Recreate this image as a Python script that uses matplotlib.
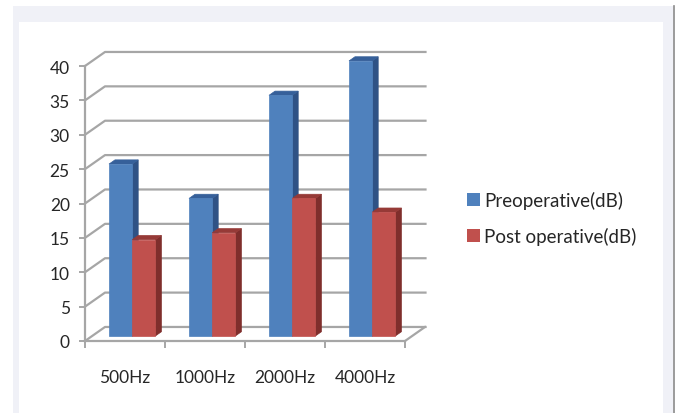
import matplotlib
matplotlib.use("Agg")
import matplotlib.pyplot as plt
from matplotlib.patches import Polygon, Rectangle, Patch
from matplotlib.lines import Line2D

categories = ["500Hz", "1000Hz", "2000Hz", "4000Hz"]
preoperative = [25, 20, 35, 40]
post_operative = [14, 15, 20, 18]
series_names = ["Preoperative(dB)", "Post operative(dB)"]
y_ticks = [0, 5, 10, 15, 20, 25, 30, 35, 40]

plt.rcParams['font.family'] = ['Lato', 'DejaVu Sans']

W, H = 677, 414
DEPTH_X, DEPTH_Y = 0.25, 2.04  # oblique shift for one full unit of depth
GRID = "#a6a6a6"
TEXT = "#262626"

# face colours: front, side, top
BLUE = ("#4f81bd", "#2f5285", "#36609a")
RED = ("#c0504d", "#7f2e2c", "#963a37")


def proj(x, y, z):
    return x + DEPTH_X * z, y + DEPTH_Y * z


def draw_box(ax, x0, x1, top, z0, z1, colors, zorder):
    front, side, lid = colors
    pts = lambda corners: [proj(*c) for c in corners]
    ax.add_patch(Polygon(pts([(x1, 0, z0), (x1, 0, z1), (x1, top, z1), (x1, top, z0)]),
                         closed=True, facecolor=side, edgecolor=side, lw=0.5,
                         zorder=zorder, clip_on=False))
    ax.add_patch(Polygon(pts([(x0, top, z0), (x1, top, z0), (x1, top, z1), (x0, top, z1)]),
                         closed=True, facecolor=lid, edgecolor=lid, lw=0.5,
                         zorder=zorder, clip_on=False))
    ax.add_patch(Polygon(pts([(x0, 0, z0), (x1, 0, z0), (x1, top, z0), (x0, top, z0)]),
                         closed=True, facecolor=front, edgecolor=front, lw=0.5,
                         zorder=zorder, clip_on=False))


fig = plt.figure(figsize=(W / 100, H / 100), dpi=100)

# page frame around the chart
fig.patches.append(Rectangle((13 / W, 0), 660 / W, 1 - 7 / H, transform=fig.transFigure,
                             facecolor="#f0f1f7", edgecolor="none", zorder=-3))
fig.patches.append(Rectangle((19 / W, 0), 644 / W, 1 - 23 / H, transform=fig.transFigure,
                             facecolor="white", edgecolor="none", zorder=-2))
fig.lines.append(Line2D([673.5 / W, 673.5 / W], [0, 1 - 7 / H], transform=fig.transFigure,
                        color="#8a8a8a", lw=1.2, zorder=-2))

x_max, y_max = 4.35, 43
ax = fig.add_axes([85 / W, (H - 342) / H, x_max * 80 / W, y_max * 6.875 / H])
ax.set_zorder(1)
ax.set_xlim(0, x_max)
ax.set_ylim(0, y_max)
ax.patch.set_alpha(0)

n = len(categories)
top_val = y_ticks[-1]

# back wall gridlines and the left wall diagonals
for v in y_ticks:
    bx, by = proj(0, v, 1)
    ex, _ = proj(n, v, 1)
    ax.plot([0, bx, ex + 0.02], [v, by, by], color=GRID, lw=1.6, zorder=1,
            solid_capstyle="butt", clip_on=False)
# floor edge on the right
fx, fy = proj(n, 0, 1)
ax.plot([n, fx], [0, fy], color=GRID, lw=1.6, zorder=1, clip_on=False)

# bars
bar_w = 0.29
z0, z1 = 0.36, 0.66
for i in range(n):
    c = i + 0.5
    draw_box(ax, c - bar_w, c, preoperative[i], z0, z1, BLUE, 3)
    draw_box(ax, c, c + bar_w, post_operative[i], z0, z1, RED, 3)

for side in ["top", "right"]:
    ax.spines[side].set_visible(False)
ax.spines["left"].set_bounds(0, top_val)
ax.spines["bottom"].set_bounds(0, n)
for side in ["left", "bottom"]:
    ax.spines[side].set_color(GRID)
    ax.spines[side].set_linewidth(1.6)

ax.set_yticks(y_ticks)
ax.set_yticklabels([str(v) for v in y_ticks])
ax.tick_params(axis="y", direction="out", length=4, width=1.4, color=GRID,
               pad=7, labelsize=12.5, labelcolor=TEXT)

ax.set_xticks([i + 0.5 for i in range(n)])
ax.set_xticklabels(categories)
ax.set_xticks(range(n + 1), minor=True)
ax.tick_params(axis="x", which="major", length=0, pad=20, labelsize=12.5, labelcolor=TEXT)
ax.tick_params(axis="x", which="minor", direction="out", length=5, width=1.4, color=GRID)

handles = [Patch(facecolor=BLUE[0], edgecolor="none"), Patch(facecolor=RED[0], edgecolor="none")]
fig.legend(handles, series_names, loc="center left", bbox_to_anchor=(450 / W, 1 - 219 / H),
           frameon=False, fontsize=13.5, handlelength=0.7, handleheight=0.7,
           handletextpad=0.22, labelspacing=1.0, labelcolor=TEXT)

fig.savefig("out.png", dpi=100)
